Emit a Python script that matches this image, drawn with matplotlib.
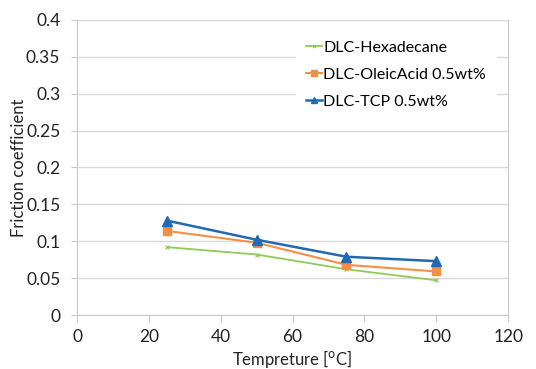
import matplotlib
matplotlib.use("Agg")
import matplotlib.pyplot as plt

temps = [25, 50, 75, 100]
hexadecane = [0.092, 0.082, 0.062, 0.047]
oleic = [0.114, 0.098, 0.068, 0.059]
tcp = [0.128, 0.102, 0.079, 0.073]
labels = ["DLC-Hexadecane", "DLC-OleicAcid 0.5wt%", "DLC-TCP 0.5wt%"]

plt.rcParams['font.family'] = ['Lato', 'DejaVu Sans']

fig = plt.figure(figsize=(5.36, 3.69), dpi=100)
ax = fig.add_axes([0.1437, 0.1463, 0.948 - 0.1437, 0.946 - 0.1463])

ax.plot(temps, hexadecane, color='#8FCB5A', lw=1.3, marker='x', ms=3, mew=0.8, label=labels[0])
ax.plot(temps, oleic, color='#F39046', lw=1.5, marker='s', ms=6, label=labels[1])
ax.plot(temps, tcp, color='#2169B3', lw=1.8, marker='^', ms=6.5, label=labels[2])

ax.set_xlim(0, 120)
ax.set_ylim(0, 0.4)
ax.set_xticks(range(0, 121, 20))
ax.set_yticks([0, 0.05, 0.1, 0.15, 0.2, 0.25, 0.3, 0.35, 0.4])
ax.set_yticklabels(['0', '0.05', '0.1', '0.15', '0.2', '0.25', '0.3', '0.35', '0.4'])
ax.yaxis.grid(True, color='#D9D9D9', lw=1.0)
ax.set_axisbelow(True)
ax.spines['top'].set_visible(False)
for s in ['left', 'bottom', 'right']:
    ax.spines[s].set_color('#C8C8C8')
ax.tick_params(axis='y', length=4, pad=8, color='#C8C8C8', labelsize=12.5, colors='#222222')
ax.tick_params(axis='x', length=5, pad=5, color='#C8C8C8', labelsize=12.5, colors='#222222')
for t in ax.get_yticklabels() + ax.get_xticklabels():
    t.set_color('#222222')
ax.set_ylabel('Friction coefficient', fontsize=12, color='#222222')
ax.set_xlabel(r'Tempreture [$^{\mathrm{o}}$C]', fontsize=12, color='#222222')
ax.yaxis.set_label_coords(-0.115, 0.5)
ax.xaxis.set_label_coords(0.5, -0.112)

leg = ax.legend(loc='upper right', bbox_to_anchor=(0.99, 0.99), frameon=True, fontsize=11.5,
                handlelength=1.0, handletextpad=0.1, labelspacing=0.8, borderpad=0.6,
                fancybox=False, markerscale=0.7)
leg.get_frame().set_edgecolor('white')
leg.get_frame().set_facecolor('white')
leg.get_frame().set_alpha(1)

fig.savefig('out.png', dpi=100)
